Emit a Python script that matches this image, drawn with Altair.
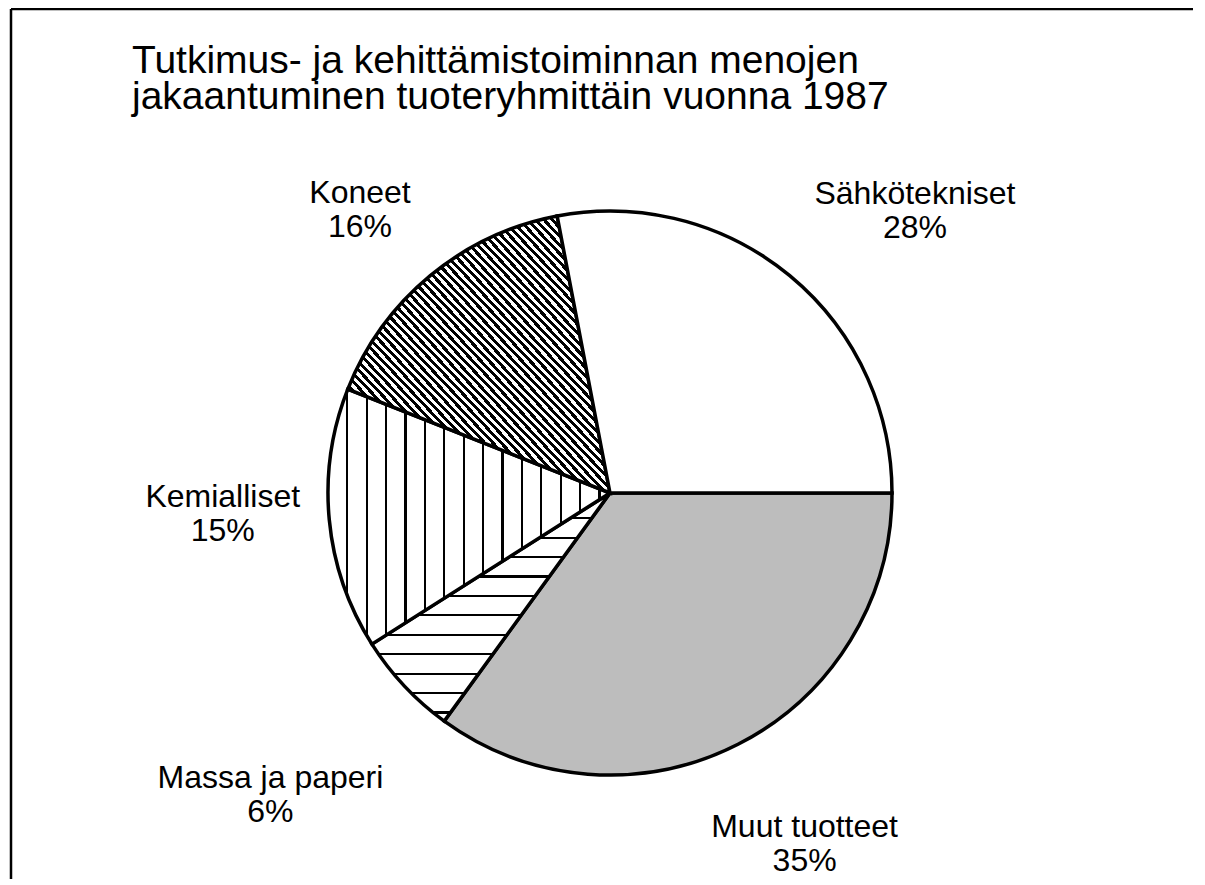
import math
import altair as alt
import pandas as pd

# ---- data ----
categories = ["Muut tuotteet", "Massa ja paperi", "Kemialliset", "Koneet", "Sähkötekniset"]
shares = [35, 6, 15, 16, 28]
title_lines = ["Tutkimus- ja kehittämistoiminnan menojen",
               "jakaantuminen tuoteryhmittäin vuonna 1987"]

df = pd.DataFrame({"category": categories, "share": shares, "ord": list(range(len(categories)))})

# ---- layout / style ----
FONT = "Liberation Sans"
W, H = 1185, 746
PT = 125
CX, CY = 602, 360
R = 282
LABEL_R = 400


def stripes(positions, lw, x1, y1, x2, y2, ink="black", paper="white"):
    stops = [{"offset": 0, "color": paper}]
    for p in positions:
        a, b = max(p - lw / 2, 0), min(p + lw / 2, 1)
        stops += [{"offset": a, "color": paper}, {"offset": a, "color": ink},
                  {"offset": b, "color": ink}, {"offset": b, "color": paper}]
    stops.append({"offset": 1, "color": paper})
    return {"gradient": "linear", "x1": x1, "y1": y1, "x2": x2, "y2": y2, "stops": stops}


vertical = stripes([(19.3 + 19.4 * k) / 282 for k in range(14)], 2.2 / 282, 0, 0, 1, 0)
horizontal = stripes([(5.9 + 19.4 * k) / 228 for k in range(12)], 2.2 / 228, 0, 0, 0, 1)
diagonal = stripes([(0.5 + k) / 64 for k in range(64)], 0.5 / 64, 0, 1, 1, 0)

fill_def = {
    "condition": [
        {"test": "datum.category === 'Muut tuotteet'", "value": "#bdbdbd"},
        {"test": "datum.category === 'Massa ja paperi'", "value": horizontal},
        {"test": "datum.category === 'Kemialliset'", "value": vertical},
        {"test": "datum.category === 'Koneet'", "value": diagonal},
    ],
    "value": "white",
}

theta_scale = alt.Scale(domain=[0, sum(shares)], range=[math.pi / 2, math.pi / 2 + 2 * math.pi])

base = alt.Chart(df).transform_window(
    cum="sum(share)", sort=[alt.SortField("ord")], frame=[None, 0]
).transform_calculate(
    start="datum.cum - datum.share",
    mid="datum.cum - datum.share / 2",
    label="[datum.category, datum.share + '%']",
)

arcs = base.mark_arc(radius=R, stroke="black", strokeWidth=3.5).encode(
    theta=alt.Theta("start:Q", scale=theta_scale),
    theta2="cum:Q",
    x=alt.value(CX),
    y=alt.value(CY),
    fill=fill_def,
)

nudges = {
    "Muut tuotteet": (13, -22),
    "Massa ja paperi": (-48, 11),
    "Kemialliset": (11, -34),
    "Koneet": (5, 8),
    "Sähkötekniset": (50, 9),
}

texts = []
for cat in categories:
    ddx, ddy = nudges[cat]
    texts.append(
        base.transform_filter(alt.datum.category == cat).mark_text(
            radius=LABEL_R, font=FONT, fontSize=32, lineHeight=34,
            align="center", baseline="middle", color="black", dx=ddx, dy=ddy,
        ).encode(
            theta=alt.Theta("mid:Q", scale=theta_scale),
            text="label:N",
            x=alt.value(CX),
            y=alt.value(CY),
        )
    )

title_src = alt.Chart(alt.Data(values=[{"t": title_lines}]))
title = title_src.mark_text(
    font=FONT, fontSize=39, lineHeight=36, align="left", baseline="alphabetic", color="black"
).encode(
    text="t:N", x=alt.value(124), y=alt.value(73 - 8 - PT)
)

frame_src = alt.Chart(alt.Data(values=[{"k": 0}]))
top_rule = frame_src.mark_rule(color="black", strokeWidth=2.5).encode(
    x=alt.value(3), x2=alt.value(W + 4), y=alt.value(1 - PT)
)
left_rule = frame_src.mark_rule(color="black", strokeWidth=2.5).encode(
    x=alt.value(3), y=alt.value(1 - PT), y2=alt.value(H)
)

chart = alt.layer(arcs, *texts, title, top_rule, left_rule).properties(
    width=W,
    height=H,
    autosize="none",
    padding={"left": 0, "top": PT, "right": 0, "bottom": 0},
).configure_view(stroke=None)

chart.save("out.html", embed_options={"renderer": "svg", "actions": False})
